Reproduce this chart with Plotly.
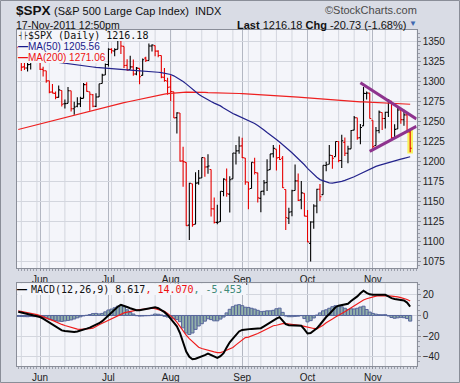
import plotly.graph_objects as go
import pandas as pd

W, H = 460, 383

# ---------------- data ----------------
HOLIDAYS = ["2011-05-30", "2011-07-04", "2011-09-05"]
dates = [d for d in pd.bdate_range("2011-05-20", "2011-11-17")
         if d.strftime("%Y-%m-%d") not in HOLIDAYS]

open_ = [1342.0, 1333.1, 1317.7, 1316.4, 1320.6, 1325.7, 1331.1,
         1345.2, 1314.6, 1312.9, 1300.3, 1286.3, 1284.6, 1279.6, 1288.3, 1271.6, 1272.2, 1287.9, 1265.5, 1268.6,
         1271.5, 1278.4, 1295.5, 1286.6, 1283.0, 1268.4, 1280.2, 1296.9, 1307.6,
         1320.6, 1339.6, 1337.6, 1339.6, 1352.4, 1343.3, 1319.6, 1314.5, 1317.7, 1308.9, 1315.9, 1307.1, 1328.7,
         1325.7, 1343.8, 1344.3, 1337.4, 1331.9, 1304.8, 1300.1,
         1292.6, 1286.6, 1254.3, 1260.2, 1200.3, 1198.5, 1120.2, 1171.8, 1121.3, 1172.9, 1178.9, 1204.2, 1192.9,
         1189.6, 1140.5, 1123.6, 1124.4, 1162.2, 1176.7, 1158.9, 1177.9, 1209.8, 1213.0,
         1219.1, 1203.9, 1174.0, 1165.9, 1198.0, 1185.4, 1153.5, 1162.6, 1173.3, 1189.4, 1209.2, 1215.0, 1204.5,
         1203.6, 1164.6, 1128.8, 1136.9, 1163.3, 1175.4, 1151.7, 1159.9,
         1131.2, 1097.4, 1124.0, 1144.1, 1165.0, 1158.2, 1194.6, 1196.2, 1207.0, 1205.7, 1224.5, 1200.8, 1223.5,
         1209.9, 1215.4, 1238.7, 1254.2, 1229.2, 1244.0, 1284.4, 1285.0,
         1251.0, 1219.6, 1238.2, 1260.8, 1253.2, 1261.1, 1275.2, 1229.6, 1240.1, 1263.9, 1251.7, 1257.8, 1236.6]
high = [1342.0, 1333.1, 1323.7, 1325.9, 1328.5, 1334.6, 1345.2,
        1345.2, 1318.0, 1312.9, 1300.3, 1296.2, 1287.0, 1294.5, 1288.3, 1277.0, 1292.5, 1287.9, 1274.1, 1279.8,
        1280.4, 1297.6, 1298.6, 1286.6, 1283.9, 1284.9, 1296.8, 1309.2, 1322.0,
        1341.0, 1340.9, 1340.9, 1356.5, 1352.4, 1343.3, 1327.2, 1331.5, 1326.9, 1317.7, 1315.9, 1328.1, 1330.4,
        1347.0, 1346.1, 1344.3, 1338.5, 1331.9, 1316.3, 1304.2,
        1307.4, 1286.6, 1261.2, 1260.2, 1218.1, 1198.5, 1172.9, 1171.8, 1186.3, 1189.0, 1204.5, 1204.2, 1208.5,
        1189.6, 1154.5, 1145.5, 1162.4, 1178.6, 1190.7, 1181.2, 1210.3, 1220.1, 1230.7,
        1229.3, 1203.9, 1174.0, 1198.6, 1204.4, 1185.4, 1162.5, 1176.4, 1202.4, 1209.1, 1220.1, 1215.0, 1220.4,
        1206.3, 1164.6, 1141.7, 1164.2, 1195.9, 1184.7, 1175.1, 1159.9,
        1139.0, 1125.1, 1146.1, 1165.6, 1171.4, 1194.9, 1199.2, 1220.3, 1207.5, 1224.6, 1224.5, 1233.1, 1229.6,
        1219.4, 1239.0, 1256.5, 1254.2, 1246.3, 1292.7, 1287.1, 1285.0,
        1251.0, 1242.5, 1263.2, 1260.8, 1261.7, 1277.6, 1275.2, 1246.2, 1267.0, 1263.9, 1264.3, 1259.6, 1237.7]
low = [1330.7, 1312.6, 1313.9, 1311.8, 1314.4, 1325.7, 1331.1,
       1313.7, 1305.6, 1297.9, 1284.7, 1284.7, 1277.4, 1279.6, 1268.3, 1265.6, 1272.2, 1261.9, 1258.1, 1267.4,
       1267.6, 1278.4, 1286.8, 1262.9, 1267.2, 1267.5, 1280.2, 1296.9, 1307.6,
       1318.2, 1334.3, 1330.9, 1339.6, 1333.7, 1316.4, 1313.3, 1314.5, 1306.5, 1307.3, 1295.9, 1307.1, 1323.7,
       1325.7, 1336.9, 1331.1, 1329.6, 1303.5, 1299.2, 1282.9,
       1274.7, 1254.0, 1234.6, 1199.5, 1168.1, 1119.3, 1101.5, 1118.0, 1121.3, 1170.7, 1178.9, 1180.5, 1184.4,
       1131.0, 1122.1, 1121.1, 1124.4, 1156.3, 1155.5, 1135.9, 1177.9, 1195.8, 1209.4,
       1203.9, 1170.6, 1140.1, 1165.9, 1183.3, 1148.4, 1136.1, 1157.4, 1162.7, 1189.4, 1204.5, 1188.4, 1201.3,
       1166.4, 1114.2, 1121.4, 1131.1, 1163.3, 1150.4, 1139.9, 1131.3,
       1098.9, 1074.8, 1115.7, 1135.0, 1150.3, 1158.2, 1187.3, 1196.2, 1190.6, 1205.7, 1198.6, 1191.5, 1206.3,
       1197.3, 1215.4, 1238.7, 1226.8, 1221.1, 1244.0, 1277.0, 1253.2,
       1215.4, 1219.6, 1234.8, 1238.9, 1240.8, 1255.0, 1226.6, 1227.7, 1240.1, 1246.7, 1244.3, 1235.7, 1211.0]
close = [1333.3, 1317.4, 1316.3, 1320.5, 1325.7, 1331.1, 1345.2,
         1314.6, 1312.9, 1300.2, 1286.2, 1284.9, 1279.6, 1289.0, 1271.0, 1271.8, 1287.9, 1265.4, 1267.6, 1271.5,
         1278.4, 1295.5, 1287.1, 1283.5, 1268.5, 1280.1, 1296.7, 1307.4, 1320.6,
         1339.7, 1337.9, 1339.2, 1353.2, 1343.8, 1319.5, 1313.6, 1317.7, 1308.9, 1316.1, 1305.4, 1326.7, 1325.8,
         1343.8, 1345.0, 1337.4, 1331.9, 1304.9, 1300.7, 1292.3,
         1286.9, 1254.1, 1260.3, 1200.1, 1199.4, 1119.5, 1172.5, 1120.8, 1172.6, 1178.8, 1204.5, 1192.8, 1193.9,
         1140.6, 1123.5, 1123.8, 1162.4, 1177.6, 1159.3, 1176.8, 1210.1, 1212.9, 1218.9,
         1204.4, 1174.0, 1165.2, 1198.6, 1185.9, 1154.2, 1162.3, 1172.9, 1188.7, 1209.1, 1216.0, 1204.1, 1202.1,
         1166.8, 1129.6, 1136.4, 1163.0, 1175.4, 1151.1, 1160.4, 1131.4,
         1099.2, 1124.0, 1144.0, 1165.0, 1155.5, 1194.9, 1195.5, 1207.3, 1203.7, 1224.6, 1200.9, 1225.4, 1209.9,
         1215.4, 1238.3, 1254.2, 1229.1, 1242.0, 1284.6, 1285.1, 1253.3,
         1218.3, 1237.9, 1261.2, 1253.2, 1261.1, 1275.9, 1229.1, 1239.7, 1263.9, 1251.8, 1257.8, 1236.9, 1216.2]

ma50 = [1331, 1330.5, 1330, 1329.5, 1329, 1328.3, 1327.7,
        1327, 1326.3, 1325.7, 1325, 1324.5, 1324, 1323.5, 1323, 1322.5, 1322, 1321.6, 1321.3, 1321, 1320.3,
        1319.6, 1319, 1318.3, 1317.6, 1317, 1316.6, 1316.3, 1316, 1315.7, 1315.4, 1315.1, 1314.8, 1314.5,
        1314.2, 1313.9, 1313.6, 1313.4, 1313.1, 1312.8, 1312.5, 1312.2, 1311.9, 1311.6, 1311.3, 1311, 1310.6,
        1310, 1309.3, 1308.2, 1306.5, 1304.5, 1302.5, 1299.5, 1296.5, 1293, 1290, 1286.5, 1283.5, 1281,
        1278.5, 1276, 1274.5, 1272.5, 1271, 1269, 1266.5, 1264, 1261.5, 1259.5, 1257.8, 1256, 1254.5, 1253,
        1251.5, 1249.5, 1247, 1244.5, 1242, 1239, 1235.8, 1232.5, 1229.8, 1227, 1224, 1221, 1217.5, 1214,
        1210.5, 1207, 1203.5, 1200, 1195.5, 1191, 1187, 1183, 1180, 1177, 1175.5, 1174, 1173, 1172.5, 1173,
        1173.5, 1174.7, 1176, 1177.3, 1178.5, 1180.5, 1182.5, 1184.5, 1186.5, 1188.5, 1190.5, 1192, 1193.5,
        1194.8, 1196, 1197.3, 1198.5, 1199.5, 1200.5, 1201.5, 1202.5, 1203.5, 1204.5, 1205.56]
ma200 = [1239.5, 1240.5, 1241.5, 1242.5, 1243.5, 1244.5, 1245.5,
         1246.5, 1247.5, 1248.5, 1249.3, 1250.3, 1251.3, 1252.3, 1253.3, 1254.3, 1255.3, 1256.3, 1257.3,
         1258.3, 1259.3, 1260.3, 1261.3, 1262.3, 1263.3, 1264.3, 1265.3, 1266.3, 1267.3, 1268.3, 1269.3,
         1270.3, 1271.2, 1272.1, 1273, 1273.9, 1274.8, 1275.7, 1276.6, 1277.5, 1278.4, 1279.3, 1280.2, 1281,
         1281.8, 1282.5, 1283.2, 1283.8, 1284.4, 1284.9, 1285.3, 1285.6, 1285.8, 1286, 1286.1, 1286.2, 1286.2,
         1286.2, 1286.1, 1286, 1285.8, 1285.6, 1285.4, 1285.2, 1285, 1284.9, 1284.8, 1284.7, 1284.6, 1284.6,
         1284.6, 1284.5, 1284.4, 1284.2, 1284, 1283.8, 1283.6, 1283.4, 1283.2, 1283, 1282.8, 1282.6, 1282.3,
         1282, 1281.7, 1281.4, 1281.1, 1280.8, 1280.5, 1280.2, 1279.9, 1279.6, 1279.3, 1279, 1278.6, 1278.2,
         1277.8, 1277.4, 1277, 1276.7, 1276.4, 1276.1, 1275.8, 1275.5, 1275.3, 1275.1, 1274.9, 1274.7, 1274.5,
         1274.3, 1274.1, 1273.9, 1273.7, 1273.5, 1273.3, 1273.1, 1272.9, 1272.7, 1272.5, 1272.3, 1272.1,
         1271.9, 1271.7, 1271.5, 1271.35, 1271.2, 1271.06]

macd = [3.7, 3.0, 2.4, 1.8, 1.2, 0.5, -0.3,
        -1.5, -3.0, -5.0, -7.3, -9.0, -11, -13, -14.5, -15, -15.5, -16, -16, -15.5, -14.8, -13.8, -12.8,
        -11.8, -10.5, -9, -7.5, -5.5, -2.5, 0.5, 3.2, 6, 8.5, 10.3, 9.5, 8.2, 7, 6, 5, 5, 5.5, 6.2, 6.8,
        7.4, 8, 7, 5.5, 3.2, 0.5, -3, -6, -10.5, -17, -27, -35, -40, -42.5, -42, -41, -40, -38.5, -37,
        -38.5, -40.5, -41.2, -39.5, -36.5, -31, -26, -22.5, -18.5, -15.5, -14, -13.5, -13.2, -13, -12.8,
        -12.5, -12.3, -10.5, -8.5, -7, -5, -3, -1.6, -5, -8.5, -9.5, -9.7, -9.7, -9.7, -10, -13.5, -17.5,
        -17, -15, -12.5, -9, -5, -1.5, 1.5, 5, 8, 9.5, 10, 10.5, 11.3, 14, 16, 18.5, 21.5, 24, 22, 20.5,
        20, 20, 20, 20, 20, 18.5, 16.8, 16, 15.7, 15.5, 14.5, 12.5, 8.617]
signal = [4.6, 4.0, 3.5, 3.0, 2.2, 1.6, 0.8,
          -0.2, -1.2, -2.6, -3.7, -4.8, -6, -7.5, -8.7, -9.7, -10.7, -11.7, -12.6, -13.2, -13.5, -13.4,
          -13, -12.7, -12.3, -11, -9, -7.5, -6, -4.8, -3, -1.5, 0, 1.6, 2.5, 3.3, 4, 4.6, 5.2, 5.6, 6, 6.5,
          7, 7.1, 6.6, 5.8, 5, 4, 2, -0.5, -3, -6.5, -11, -15, -19, -22.5, -25.5, -28.5, -30.8, -32, -33,
          -33.8, -34.5, -35.3, -36, -36, -35, -33.5, -32, -31, -28.5, -26, -23.5, -21.5, -21, -20, -19,
          -17.5, -16, -14.5, -13, -11.5, -10, -9.5, -8.7, -8, -8, -8.3, -8.5, -8.8, -9, -9.8, -10.5, -11.3,
          -12, -12.6, -12.9, -11.5, -9.5, -7, -5.5, -3.5, -1.5, 0, 1.6, 3.5, 5.5, 7.5, 9.7, 11.5, 13.3, 15,
          16.2, 17.2, 18, 18.7, 19.2, 19.3, 19.2, 19, 18.8, 18.7, 18, 17.3, 16.7, 15.5, 14.07]
hist = [-0.9, -1.0, -1.1, -1.2, -1.0, -1.1, -1.1,
        -1.3, -1.8, -2.4, -3.6, -4.2, -5, -5.5, -5.8, -5.3, -4.8, -4.3, -3.4, -2.3, -1.3, -0.4, 0.2, 0.9,
        1.8, 2, 1.5, 2, 3.5, 5.3, 6.2, 7.5, 9, 10, 8.5, 5.5, 3, 1.4, -0.2, -0.6, -0.5, -0.3, -0.2, 0.3, 1.4,
        1.2, 0.5, -0.8, -1.5, -2.5, -3, -4, -6, -12, -17, -18.5, -17, -13.5, -10.2, -8, -5.5, -3.2, -4,
        -5.2, -5.2, -3.5, -1.5, 2.5, 6, 8.5, 10, 10.5, 9.5, 8, 7.8, 7, 6.2, 5, 3.7, 4, 4.5, 4.5, 5, 6.5,
        7.1, 3, -0.5, -1.2, -1.2, -0.9, -0.7, -0.2, -3, -6.2, -5, -2.4, 0.4, 2.5, 4.5, 5.5, 7, 8.5, 9.5,
        9.5, 8.4, 7, 5.8, 6.5, 6.3, 7, 8.2, 9, 5.8, 3.3, 2, 1.3, 0.8, 0.7, 0.8, -0.5, -2, -2.7, -2.3, -1.8,
        -2.2, -3, -5.453]

MONTH_LABELS = ["Jun", "Jul", "Aug", "Sep", "Oct", "Nov"]
PRICE_TICKS = [1075, 1100, 1125, 1150, 1175, 1200, 1225, 1250, 1275, 1300, 1325, 1350]
MACD_TICKS = [-40, -20, 0, 20]
TREND_UPPER = [("2011-10-26", 1297.9), ("2011-11-21", 1252.7)]
TREND_LOWER = [("2011-10-31", 1212.3), ("2011-11-21", 1243.5)]

# ---------------- helpers ----------------
def px(v):
    return v / W

def py(v):
    return 1 - v / H

n = len(dates)
xi = list(range(n))
pos = {d.strftime("%Y-%m-%d"): i for i, d in enumerate(dates)}

month_idx = [i for i in xi if i > 0 and dates[i].month != dates[i - 1].month]
week_idx = [i for i in xi if i > 0 and dates[i].weekday() <= dates[i - 1].weekday()]

def trend_pos(d):
    if d in pos:
        return pos[d]
    extra = len(pd.bdate_range(dates[-1], d)) - 1
    return n - 1 + extra

up = [i for i in xi if (close[i] >= close[i - 1] if i > 0 else close[i] >= open_[i])]
dn = [i for i in xi if i not in up]

PLOT_BG = "#f4f5fa"
OUT_BG = "#d9dce5"
FRAME = "#8a8e99"
GRID = "#d3d6de"
MGRID = "#b3b7c2"
SANS = "Liberation Sans, Arial, sans-serif"
MONO = "DejaVu Sans Mono, monospace"

fig = go.Figure()

fig.add_trace(go.Scatter(x=xi, y=ma200, mode="lines", line=dict(color="#ee2020", width=1.2),
                         xaxis="x", yaxis="y", hoverinfo="skip"))
fig.add_trace(go.Scatter(x=xi, y=ma50, mode="lines", line=dict(color="#23238c", width=1.2),
                         xaxis="x", yaxis="y", hoverinfo="skip"))

for idxs, col in ((up, "#000000"), (dn, "#e60000")):
    fig.add_trace(go.Ohlc(
        x=[xi[i] for i in idxs], open=[open_[i] for i in idxs], high=[high[i] for i in idxs],
        low=[low[i] for i in idxs], close=[close[i] for i in idxs],
        increasing=dict(line=dict(color=col, width=1.1)),
        decreasing=dict(line=dict(color=col, width=1.1)),
        tickwidth=0.5, xaxis="x", yaxis="y", hoverinfo="skip"))

fig.add_trace(go.Bar(x=xi, y=hist, width=1, marker=dict(color="#92b0a9", line=dict(color="#56649c", width=1)),
                     xaxis="x2", yaxis="y2", hoverinfo="skip"))
fig.add_trace(go.Scatter(x=xi, y=signal, mode="lines", line=dict(color="#ee1c1c", width=1.2),
                         xaxis="x2", yaxis="y2", hoverinfo="skip"))
fig.add_trace(go.Scatter(x=xi, y=macd, mode="lines", line=dict(color="#000000", width=2),
                         xaxis="x2", yaxis="y2", hoverinfo="skip"))

xrange_ = [-0.4, 128.1]
xdom = [px(17), px(416.7)]

common_x = dict(range=xrange_, tickmode="array", tickvals=month_idx, ticktext=MONTH_LABELS,
                showgrid=True, gridcolor=MGRID, gridwidth=1, zeroline=False,
                showline=True, mirror=True, linecolor=FRAME, linewidth=1,
                ticks="outside", ticklen=2, tickcolor=FRAME,
                tickfont=dict(family=SANS, size=10, color="#222"),
                minor=dict(tickmode="linear", tick0=0, dtick=1, ticks="outside", ticklen=2,
                           tickcolor="#9a9eaa", showgrid=False),
                fixedrange=True)

fig.update_layout(
    width=W, height=H, margin=dict(l=0, r=0, t=0, b=0),
    paper_bgcolor=OUT_BG, plot_bgcolor=PLOT_BG, showlegend=False, hovermode=False,
    bargap=0,
    xaxis=dict(domain=xdom, anchor="y", rangeslider=dict(visible=False), **common_x),
    yaxis=dict(domain=[py(268.3), py(30)], range=[1066.25, 1363.75], side="right", anchor="x",
               tickmode="array", tickvals=PRICE_TICKS, showgrid=True, gridcolor=GRID, zeroline=False,
               showline=True, mirror=True, linecolor=FRAME, ticks="outside", ticklen=3, tickcolor=FRAME,
               tickfont=dict(family=SANS, size=10, color="#222"),
               minor=dict(tickmode="linear", tick0=1075, dtick=5, ticks="outside", ticklen=2,
                          tickcolor="#9a9eaa", showgrid=False),
               fixedrange=True),
    xaxis2=dict(domain=xdom, anchor="y2", matches="x", **common_x),
    yaxis2=dict(domain=[py(366), py(283.3)], range=[-49, 31.2], side="right", anchor="x2",
                tickmode="array", tickvals=MACD_TICKS, showgrid=True, gridcolor=GRID, zeroline=False,
                showline=True, mirror=True, linecolor=FRAME, ticks="outside", ticklen=3, tickcolor=FRAME,
                tickfont=dict(family=SANS, size=10, color="#222"),
                minor=dict(tickmode="linear", tick0=0, dtick=5, ticks="outside", ticklen=2,
                           tickcolor="#9a9eaa", showgrid=False),
                fixedrange=True),
)

shapes = []
for xr, yr in (("x", "y domain"), ("x2", "y2 domain")):
    for i in week_idx:
        shapes.append(dict(type="line", xref=xr, yref=yr, x0=i, x1=i, y0=0, y1=1, layer="below",
                           line=dict(color=GRID, width=1)))
last = n - 1
shapes.append(dict(type="rect", xref="x", yref="y", x0=last - 0.9, x1=last + 0.9,
                   y0=low[last] - 1.5, y1=high[last] + 1.5, layer="between",
                   fillcolor="#f6f25a", line=dict(width=0)))
for seg in (TREND_UPPER, TREND_LOWER):
    (d0, v0), (d1, v1) = seg
    shapes.append(dict(type="line", xref="x", yref="y", x0=trend_pos(d0), y0=v0,
                       x1=trend_pos(d1), y1=v1, layer="above",
                       line=dict(color="#8e338e", width=3)))
for (x0, y0, x1, y1) in ((17.5, 30.5, 152, 41), (17.5, 41, 101, 52), (17.5, 52, 104, 63),
                         (17.5, 283.8, 246, 295)):
    shapes.append(dict(type="rect", xref="paper", yref="paper", x0=px(x0), x1=px(x1),
                       y0=py(y1), y1=py(y0), layer="above", fillcolor=PLOT_BG, line=dict(width=0)))
shapes.append(dict(type="rect", xref="paper", yref="paper", x0=px(0.5), x1=px(459.5), y0=py(382.5),
                   y1=py(0.5), line=dict(color="#8a8e98", width=1), fillcolor="rgba(0,0,0,0)"))
fig.update_layout(shapes=shapes)

ann = []

def text(x, y, s, size=11, color="#111", family=SANS, anchor="left"):
    ann.append(dict(xref="paper", yref="paper", x=px(x), y=py(y), text=s, showarrow=False,
                    xanchor=anchor, yanchor="middle", borderpad=0, borderwidth=0,
                    font=dict(family=family, size=size, color=color)))

text(16, 10.5, "<b>$SPX</b>", size=13.5)
text(54, 11, "(S&P 500 Large Cap Index)", size=11)
text(195, 11, "INDX", size=11)
text(416.5, 10.5, "©StockCharts.com", size=11, color="#4a4a4a", anchor="right")
text(16, 24.5, "17-Nov-2011 12:50pm", size=10.5)
text(406, 24.5, "<b>Last</b> 1216.18 <b>Chg</b> -20.73 (-1.68%)", size=11, anchor="right")
text(409, 24, "▼", size=8, color="#3f68b0")

text(17.5, 35.8, "┤├", size=7, family=MONO)
text(27.5, 35.8, "$SPX (Daily) 1216.18", size=10, family=MONO)
text(18, 46.8, "<b>—</b>MA(50) 1205.56", size=10, color="#1a1a8a")
text(18, 57.2, "<b>—</b>MA(200) 1271.06", size=10, color="#ee1010")
text(17, 289.5, "<b>—</b>", size=10, color="#000")
text(31, 289.5, "MACD(12,26,9) 8.617<span style='color:#ee1010'>, 14.070</span>"
                "<span style='color:#3f8a78'>, -5.453</span>", size=10, family=MONO)

fig.update_layout(annotations=ann)

fig.write_html("out.html", config={"displayModeBar": False, "staticPlot": True},
               post_script="document.body.style.margin='0';document.body.style.overflow='hidden';")
